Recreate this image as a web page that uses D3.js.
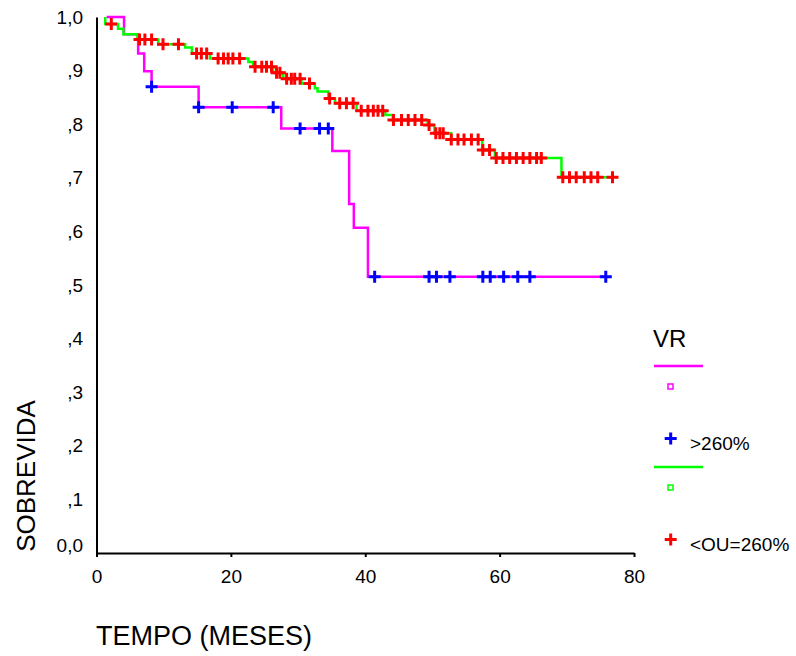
<!DOCTYPE html>
<html>
<head>
<meta charset="utf-8">
<script src="https://cdn.jsdelivr.net/npm/d3@7"></script>
<style>
  body { margin: 0; background: #fff; }
  text { font-family: "Liberation Sans", Arial, sans-serif; }
</style>
</head>
<body>
<svg id="chart" width="796" height="656"></svg>
<script>
// group VR > 260% (magenta line, blue censor marks)
const highTimes = [1.5, 4.1, 6.2, 7.1, 8.2, 15.2, 27.5, 35.1, 37.6, 38.3, 40.4];
const highSurv = [1.0, 0.968, 0.932, 0.899, 0.870, 0.8315, 0.792, 0.750, 0.651, 0.607, 0.5155];
const highCensor = [8.2, 15.2, 20.2, 26.3, 30.3, 33.2, 34.5, 41.4, 49.5, 50.6, 52.6,
    57.5, 58.6, 60.6, 62.7, 64.5, 75.8];

// group VR <= 260% (green line, red censor marks)
const lowTimes = [1.3, 1.3, 3.2, 4.0, 6.1, 9.2, 13.2, 14.2, 16.9, 22.6, 23.3, 26.3, 27.8,
    30.5, 32.5, 32.9, 34.5, 35.5, 38.7, 43.0, 44.1, 49.3, 50.3, 52.8, 57.4, 59.3, 69.2];
const lowSurv = [1.0, 0.987, 0.978, 0.968, 0.958, 0.949, 0.943, 0.932, 0.9226, 0.916, 0.907,
    0.896, 0.885, 0.876, 0.867, 0.861, 0.848, 0.839, 0.825, 0.817, 0.808, 0.7985, 0.783,
    0.7714, 0.752, 0.737, 0.701];
const lowCensor = [2.2, 6.4, 7.2, 8.2, 9.9, 12.2, 14.9, 15.6, 16.4, 18.1, 18.9, 19.6, 20.3,
    21.3, 23.6, 24.6, 25.3, 26.05, 26.8, 27.3, 28.3, 29.0, 29.5, 30.3, 31.7, 34.7, 36.2,
    37.2, 38.2, 39.4, 40.4, 41.2, 41.9, 42.6, 44.2, 45.4, 46.4, 47.4, 48.4, 49.5, 50.5,
    51.1, 51.6, 52.8, 53.8, 54.7, 55.8, 56.8, 57.5, 58.5, 59.5, 60.5, 61.5, 62.5, 63.5,
    64.5, 65.5, 66.2, 69.4, 70.4, 71.4, 72.6, 73.6, 74.6, 76.8];

const xTicks = [0, 20, 40, 60, 80];
const yTicks = [0, 0.1, 0.2, 0.3, 0.4, 0.5, 0.6, 0.7, 0.8, 0.9, 1.0];
const yTickLabels = ['0,0', ',1', ',2', ',3', ',4', ',5', ',6', ',7', ',8', ',9', '1,0'];
const legendLabels = ['>260%', '<OU=260%'];

const svg = d3.select('#chart');
const margin = { top: 17, left: 96.5 };
const innerWidth = 537.5;
const innerHeight = 536;

const xScale = d3.scaleLinear().domain([0, 80]).range([0, innerWidth]);
const yScale = d3.scaleLinear().domain([0, 1]).range([innerHeight, 0]);

const g = svg.append('g').attr('transform', `translate(${margin.left}, ${margin.top})`);

const cross = 'M-6,0H6M0,-6V6';

const drawCurve = (times, surv, censor, lineColor, markColor) => {
    const pts = times.map((t, i) => [t, surv[i]]);
    const end = censor[censor.length - 1];
    pts.push([end, surv[surv.length - 1]]);
    const line = d3.line().x(d => xScale(d[0])).y(d => yScale(d[1])).curve(d3.curveStepAfter);
    g.append('path').datum(pts)
        .attr('d', line)
        .attr('fill', 'none')
        .attr('stroke', lineColor)
        .attr('stroke-width', 2.5);
    return () => {
        g.append('g').selectAll('path').data(censor).join('path')
            .attr('d', cross)
            .attr('transform', t => {
                const i = Math.max(0, d3.bisectRight(times, t) - 1);
                return `translate(${xScale(t)}, ${yScale(surv[i])})`;
            })
            .attr('fill', 'none')
            .attr('stroke', markColor)
            .attr('stroke-width', 3);
    };
};

const marksHigh = drawCurve(highTimes, highSurv, highCensor, '#ff00ff', '#0000ff');
const marksLow = drawCurve(lowTimes, lowSurv, lowCensor, '#00ff00', '#ff0000');
marksHigh();
marksLow();

// axes
const xAxis = g.append('g')
    .attr('transform', `translate(0, ${innerHeight})`)
    .call(d3.axisBottom(xScale).tickValues(xTicks).tickSizeInner(4).tickSizeOuter(0).tickPadding(13));
const yAxis = g.append('g')
    .call(d3.axisLeft(yScale).tickValues(yTicks).tickSize(0).tickPadding(13.5)
        .tickFormat((d, i) => yTickLabels[i]));
[xAxis, yAxis].forEach(a => {
    a.select('.domain').attr('stroke', '#000').attr('stroke-width', 2);
    a.selectAll('.tick line').attr('stroke', '#000').attr('stroke-width', 2);
    a.selectAll('.tick text').attr('font-size', 19).attr('fill', '#000')
        .attr('font-family', '"Liberation Sans", Arial, sans-serif');
});
yAxis.selectAll('.tick text').filter(d => d === 0).attr('dy', '-0.1em');

// axis titles
svg.append('text')
    .attr('x', 96).attr('y', 645)
    .attr('font-size', 27)
    .text('TEMPO (MESES)');
svg.append('text')
    .attr('transform', 'translate(35, 476) rotate(-90)')
    .attr('text-anchor', 'middle')
    .attr('font-size', 26)
    .text('SOBREVIDA');

// legend
const legend = svg.append('g');
legend.append('text').attr('x', 653).attr('y', 347).attr('font-size', 24).text('VR');
const legendColors = [['#ff00ff', '#0000ff'], ['#00ff00', '#ff0000']];
legendColors.forEach((c, i) => {
    const y0 = 366 + i * 101;
    legend.append('line')
        .attr('x1', 654).attr('x2', 703).attr('y1', y0).attr('y2', y0)
        .attr('stroke', c[0]).attr('stroke-width', 2.5);
    legend.append('rect')
        .attr('x', 668).attr('y', y0 + 18).attr('width', 5).attr('height', 5)
        .attr('fill', '#fff').attr('stroke', c[0]).attr('stroke-width', 1.5);
    legend.append('path')
        .attr('d', cross)
        .attr('transform', `translate(670.7, ${y0 + 72.5})`)
        .attr('fill', 'none').attr('stroke', c[1]).attr('stroke-width', 3);
    legend.append('text')
        .attr('x', 690).attr('y', y0 + 84)
        .attr('font-size', 19)
        .text(legendLabels[i]);
});
</script>
</body>
</html>
